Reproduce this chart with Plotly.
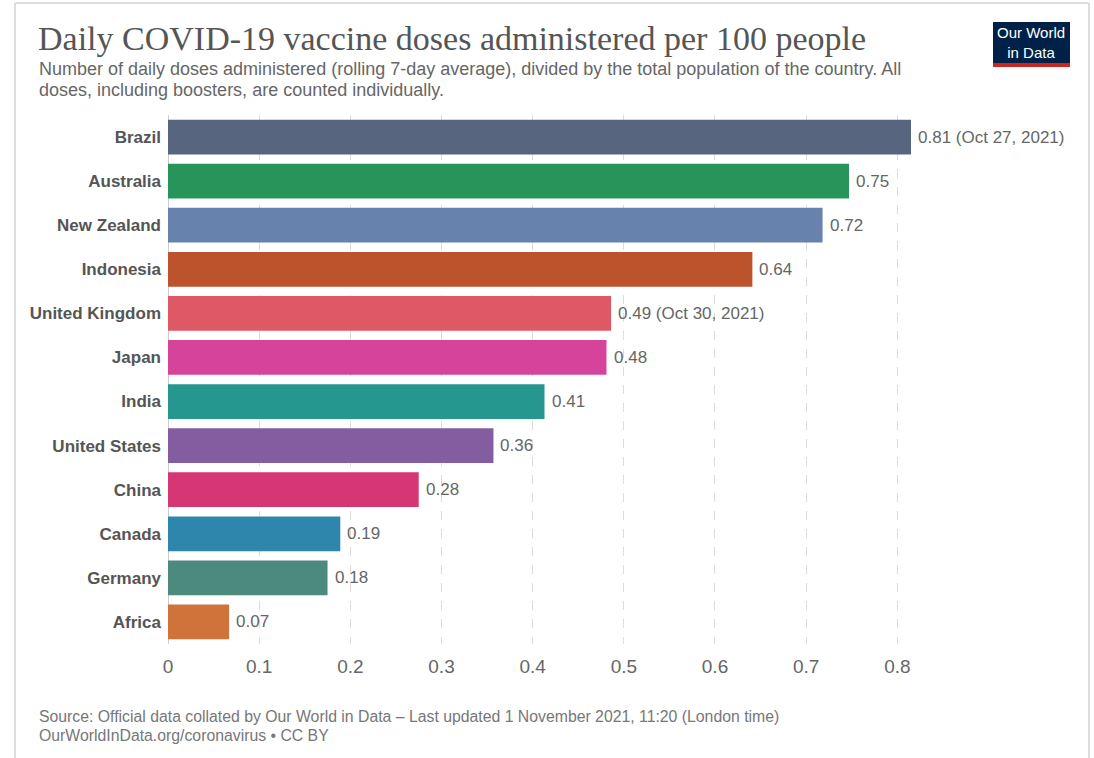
import plotly.graph_objects as go

countries = ["Brazil", "Australia", "New Zealand", "Indonesia", "United Kingdom", "Japan",
             "India", "United States", "China", "Canada", "Germany", "Africa"]
values = [0.815, 0.747, 0.718, 0.641, 0.486, 0.481, 0.413, 0.357, 0.275, 0.189, 0.175, 0.067]
value_labels = ["0.81 (Oct 27, 2021)", "0.75", "0.72", "0.64", "0.49 (Oct 30, 2021)", "0.48",
                "0.41", "0.36", "0.28", "0.19", "0.18", "0.07"]
colors = ["#58657e", "#27955a", "#6682ad", "#bd532c", "#de5866", "#d6439a",
          "#26978f", "#845da1", "#d73675", "#2f86ad", "#4b8a7c", "#cf733b"]
tick_vals = [0, 0.1, 0.2, 0.3, 0.4, 0.5, 0.6, 0.7, 0.8]
tick_text = ["0", "0.1", "0.2", "0.3", "0.4", "0.5", "0.6", "0.7", "0.8"]

W, H = 1094, 758
ML, MR, MT, MB = 168, 183, 115, 114
PW, PH = W - ML - MR, H - MT - MB


def px(x):
    return (x - ML) / PW


def py(y):
    return 1 - (y - MT) / PH


fig = go.Figure()
fig.add_trace(go.Bar(
    x=values, y=countries, orientation="h",
    marker=dict(color=colors, line=dict(width=0)),
    width=0.79, hoverinfo="skip", cliponaxis=False,
))

sans = "Liberation Sans, Arial, sans-serif"
annotations = []
for c, v, t in zip(countries, values, value_labels):
    annotations.append(dict(x=v, y=c, xref="x", yref="y", text=t, showarrow=False,
                            xanchor="left", yanchor="middle", xshift=5,
                            font=dict(family=sans, size=17, color="#666")))

annotations += [
    dict(x=px(36), y=py(39), xref="paper", yref="paper", xanchor="left", yanchor="middle",
         text="Daily COVID-19 vaccine doses administered per 100 people", showarrow=False,
         font=dict(family="Liberation Serif, Times New Roman, serif", size=34, color="#555")),
    dict(x=px(37), y=py(69), xref="paper", yref="paper", xanchor="left", yanchor="middle",
         text="Number of daily doses administered (rolling 7-day average), divided by the total population of the country. All",
         showarrow=False, font=dict(family=sans, size=18, color="#666")),
    dict(x=px(37), y=py(90), xref="paper", yref="paper", xanchor="left", yanchor="middle",
         text="doses, including boosters, are counted individually.",
         showarrow=False, font=dict(family=sans, size=18, color="#666")),
    dict(x=px(37), y=py(716), xref="paper", yref="paper", xanchor="left", yanchor="middle",
         text="Source: Official data collated by Our World in Data – Last updated 1 November 2021, 11:20 (London time)",
         showarrow=False, font=dict(family=sans, size=15.8, color="#777")),
    dict(x=px(37), y=py(735), xref="paper", yref="paper", xanchor="left", yanchor="middle",
         text="OurWorldInData.org/coronavirus • CC BY",
         showarrow=False, font=dict(family=sans, size=15.8, color="#777")),
    dict(x=px(1031), y=py(42), xref="paper", yref="paper", xanchor="center", yanchor="middle",
         text="Our World<br>in Data", showarrow=False, align="center",
         font=dict(family=sans, size=15, color="#ffffff")),
]

shapes = [
    # frame
    dict(type="line", xref="paper", yref="paper", x0=px(15), x1=px(15), y0=py(3), y1=py(758),
         line=dict(color="#dddddd", width=2), layer="below"),
    dict(type="line", xref="paper", yref="paper", x0=px(15), x1=px(1089), y0=py(3), y1=py(3),
         line=dict(color="#dddddd", width=2), layer="below"),
    dict(type="line", xref="paper", yref="paper", x0=px(1089), x1=px(1089), y0=py(3), y1=py(758),
         line=dict(color="#dddddd", width=2), layer="below"),
    # logo
    dict(type="rect", xref="paper", yref="paper", x0=px(993), x1=px(1070), y0=py(22), y1=py(63),
         fillcolor="#002147", line=dict(width=0)),
    dict(type="rect", xref="paper", yref="paper", x0=px(993), x1=px(1070), y0=py(63), y1=py(67),
         fillcolor="#ce261e", line=dict(width=0)),
]

fig.update_layout(
    width=W, height=H,
    margin=dict(l=ML, r=MR, t=MT, b=MB, autoexpand=False),
    paper_bgcolor="white", plot_bgcolor="white",
    showlegend=False,
    annotations=annotations,
    shapes=shapes,
    xaxis=dict(range=[0, 0.815], tickvals=tick_vals, ticktext=tick_text,
               showgrid=True, gridcolor="#dcdcdc", griddash="dash", gridwidth=1,
               zeroline=False, showline=False, ticks="",
               tickfont=dict(family=sans, size=19, color="#666"), ticklabelstandoff=9,
               fixedrange=True),
    yaxis=dict(categoryorder="array", categoryarray=countries[::-1], autorange=False,
               range=[-0.5, len(countries) - 0.5],
               showgrid=False, zeroline=False, showline=False, ticks="",
               tickfont=dict(family=sans, size=17, color="#555", weight="bold"),
               ticklabelstandoff=6, fixedrange=True),
)
fig.add_shape(type="line", xref="x", yref="paper", x0=0, x1=0, y0=0, y1=1,
              line=dict(color="#999", width=1), layer="below")

fig.write_html("out.html")
